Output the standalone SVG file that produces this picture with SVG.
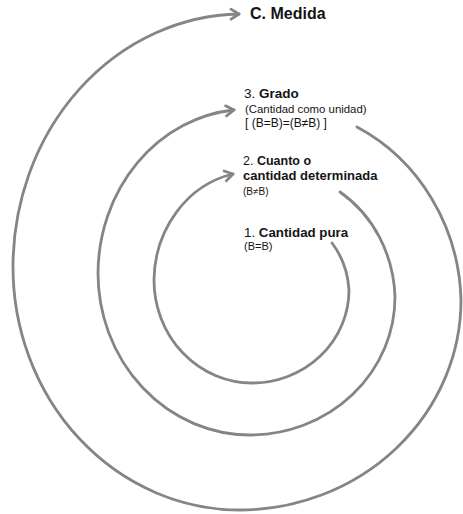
<svg xmlns="http://www.w3.org/2000/svg" width="463" height="514" viewBox="0 0 463 514">
<style>
.sp{fill:none;stroke:#858585;stroke-width:2.8;stroke-linecap:round}
text{font-family:"Liberation Sans","DejaVu Sans",sans-serif;fill:#141414}
.b{font-weight:bold}
.n{font-weight:normal}
</style>
<defs>
<marker id="ah" markerUnits="userSpaceOnUse" markerWidth="14" markerHeight="14" refX="10" refY="6" orient="auto" viewBox="0 0 14 12">
<path d="M2,1 L10,6 L2,11" fill="none" stroke="#858585" stroke-width="2.8" stroke-linecap="round" stroke-linejoin="round"/>
</marker>
</defs>
<rect width="463" height="514" fill="#ffffff"/>
<g id="connectors">
<path class="sp" marker-end="url(#ah)" d="M332,243 A70,80 0 0 1 349,290 A97,93 0 0 1 252,383 A98,103 0 0 1 154,280 A100,110 0 0 1 233,174"/>
<path class="sp" marker-end="url(#ah)" d="M340,192 A120,130 0 0 1 395,297 A145,138 0 0 1 250,435 A152,162 0 0 1 98,273 A150,165 0 0 1 234,110"/>
<path class="sp" marker-end="url(#ah)" d="M357,127 A190,200 0 0 1 461,300 A222,210 0 0 1 240,510 A227,243 0 0 1 13,267 A230,253 0 0 1 239,14"/>
</g>
<g id="node-medida">
<text class="b" x="250" y="19" font-size="16">C. Medida</text>
</g>
<g id="node-grado">
<text x="244" y="98" font-size="13.5"><tspan class="n">3. </tspan><tspan class="b">Grado</tspan></text>
<text x="245" y="113" font-size="11.4">(Cantidad como unidad)</text>
<text x="245" y="127" font-size="12">[ (B=B)=(B≠B) ]</text>
</g>
<g id="node-cuanto">
<text x="243" y="165" font-size="12.5"><tspan class="n">2. </tspan><tspan class="b">Cuanto o</tspan></text>
<text class="b" x="243" y="179.5" font-size="13">cantidad determinada</text>
<text x="243" y="195" font-size="10">(B≠B)</text>
</g>
<g id="node-pura">
<text x="244" y="237" font-size="13.3"><tspan class="n">1. </tspan><tspan class="b">Cantidad pura</tspan></text>
<text x="244" y="250" font-size="11">(B=B)</text>
</g>
</svg>
